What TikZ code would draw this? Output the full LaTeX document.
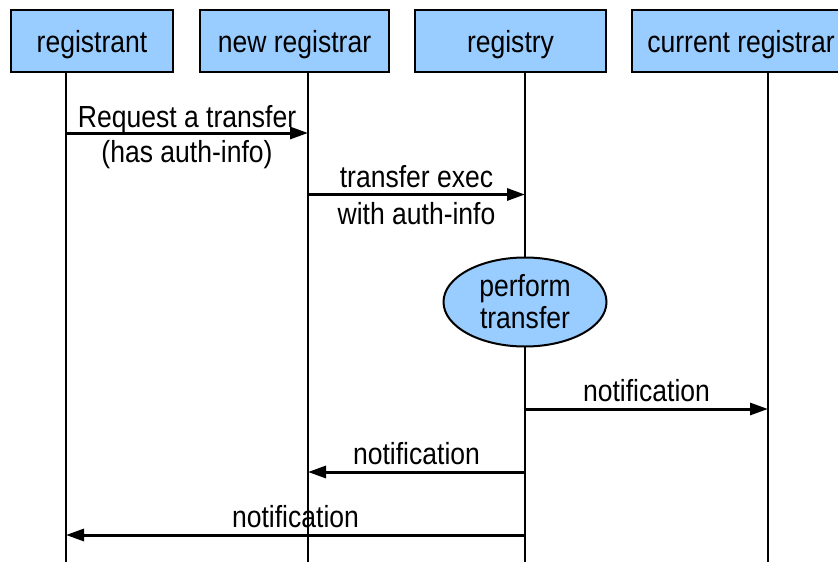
\documentclass[tikz,border=0pt]{standalone}
\usepackage{fontspec}
\setmainfont{Liberation Sans}[FakeStretch=0.87]
\usetikzlibrary{arrows.meta,shapes.geometric}
\definecolor{boxblue}{HTML}{99CCFF}
\tikzset{
  actor/.style={draw=black, line width=2pt, fill=boxblue, inner sep=0pt,
    minimum height=62pt, text height=22pt, text depth=0pt},
  life/.style={draw=black, line width=2pt},
  msg/.style={draw=black, line width=3pt, -{Triangle[length=18pt,width=12pt]}},
  uplabel/.style={anchor=base, yshift=6pt, inner sep=0pt},
  lowlabel/.style={anchor=base, yshift=-29.5pt, inner sep=0pt},
  notelabel/.style={anchor=base, yshift=8pt, inner sep=0pt},
  action/.style={ellipse, draw=black, line width=2pt, fill=boxblue, inner sep=0pt, align=center}
}
\begin{document}
\begin{tikzpicture}[x=1pt,y=-1pt,font=\fontsize{30.5}{32}\selectfont]
\clip (0,0) rectangle (838,562);
\fill[white] (0,0) rectangle (838,562);
% lifelines
\coordinate (L1t) at (66,72);  \coordinate (L1b) at (66,562);
\coordinate (L2t) at (308,72); \coordinate (L2b) at (308,562);
\coordinate (L3t) at (525,72); \coordinate (L3b) at (525,562);
\coordinate (L4t) at (768,72); \coordinate (L4b) at (768,562);
\draw[life] (L1t) -- (L1b);
\draw[life] (L2t) -- (L2b);
\draw[life] (L3t) -- (L3b);
\draw[life] (L4t) -- (L4b);
% actors
\node[actor, minimum width=162pt] (registrant) at (92,41) {registrant};
\node[actor, minimum width=189pt] (newreg) at (294.5,41) {new registrar};
\node[actor, minimum width=191pt] (registry) at (510.5,41) {registry};
\node[actor, minimum width=218pt] (curreg) at (741,41) {current registrar};
% messages
\coordinate (a1s) at (66,133);  \coordinate (a1e) at (308,133);
\draw[msg] (a1s) -- node[uplabel]{Request a transfer} node[lowlabel]{(has auth-info)} (a1e);
\coordinate (a2s) at (308,194.5); \coordinate (a2e) at (525,194.5);
\draw[msg] (a2s) -- node[uplabel, yshift=1pt]{transfer exec} node[lowlabel]{with auth-info} (a2e);
\node[action, minimum width=163pt, minimum height=89pt] (perf) at (525,302) {perform\\transfer};
\coordinate (a3s) at (525,409); \coordinate (a3e) at (768,409);
\draw[msg] (a3s) -- node[notelabel]{notification} (a3e);
\coordinate (a4s) at (525,472); \coordinate (a4e) at (308,472);
\draw[msg] (a4s) -- node[notelabel]{notification} (a4e);
\coordinate (a5s) at (525,535); \coordinate (a5e) at (66,535);
\draw[msg] (a5s) -- node[notelabel]{notification} (a5e);
\end{tikzpicture}
\end{document}
